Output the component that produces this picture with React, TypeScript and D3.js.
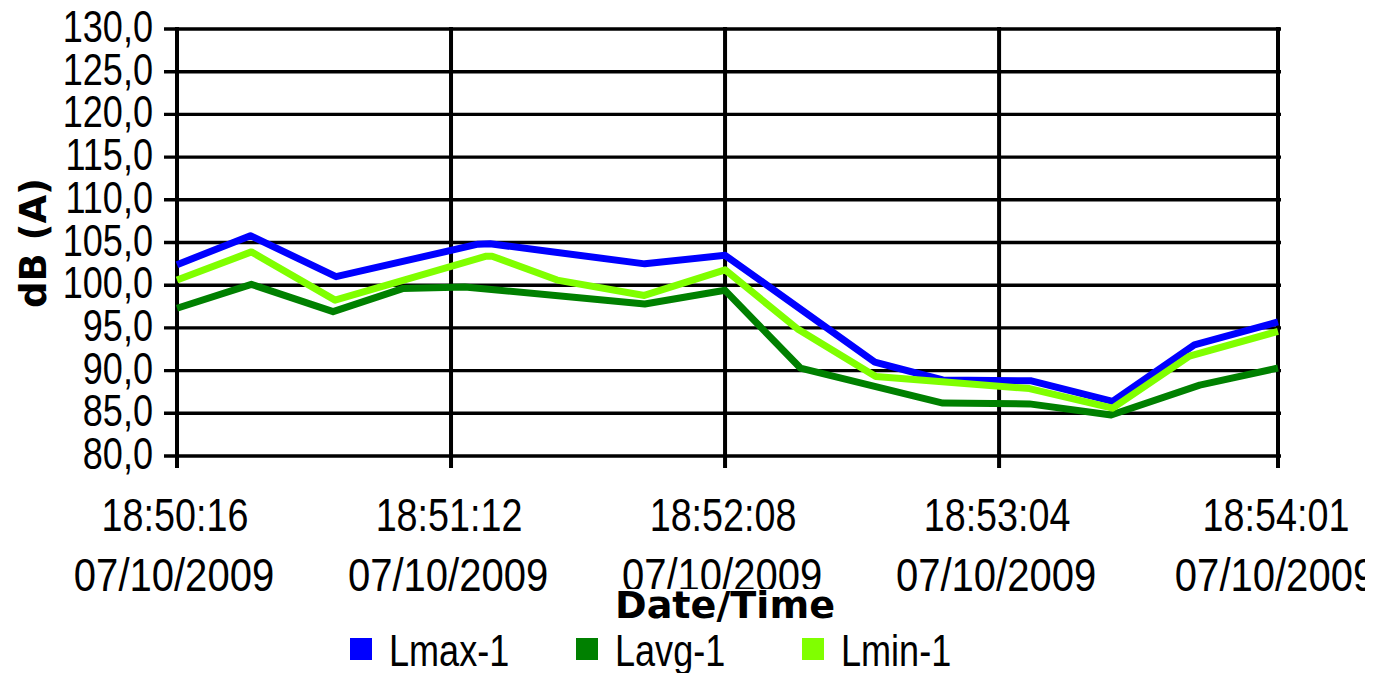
import React from "react";
import * as d3 from "d3";

// ---- data ----
const xTickSeconds = [0, 56, 112, 168, 225];
const xTickTimes = ["18:50:16", "18:51:12", "18:52:08", "18:53:04", "18:54:01"];
const xTickDates = ["07/10/2009", "07/10/2009", "07/10/2009", "07/10/2009", "07/10/2009"];
const yTicks = [80, 85, 90, 95, 100, 105, 110, 115, 120, 125, 130];

const seriesNames = ["Lmax-1", "Lavg-1", "Lmin-1"];
const seriesColors = ["#0000FF", "#008000", "#80FF00"];

// [seconds since 18:50:16, dB(A)]
const lmax: [number, number][] = [
  [0, 102.4], [15, 105.8], [32.5, 101.0], [61.5, 104.8], [64, 104.85],
  [95.6, 102.5], [112, 103.5], [142.6, 91.0], [156.5, 88.9], [174.6, 88.8],
  [191.2, 86.4], [207.9, 93.0], [225, 95.7],
];
const lavg: [number, number][] = [
  [0, 97.3], [15.2, 100.1], [31.9, 96.9], [46.1, 99.6], [58.8, 99.8],
  [95.6, 97.8], [112, 99.4], [127.4, 90.3], [156.5, 86.2], [174.2, 86.1],
  [190.9, 84.8], [209, 88.3], [225, 90.3],
];
const lmin: [number, number][] = [
  [0, 100.6], [15.2, 103.9], [32.3, 98.25], [63.2, 103.4], [64.4, 103.4],
  [77.7, 100.6], [95.5, 98.8], [112, 101.8], [127, 94.8], [142.8, 89.3],
  [174.2, 87.9], [191.2, 85.6], [206.9, 91.7], [225, 94.6],
];
const seriesData = [lmax, lavg, lmin];

const SANS = "'Liberation Sans', Arial, sans-serif";
const BOLD = "'DejaVu Sans', 'Liberation Sans', sans-serif";

function NarrowText(props: {
  x: number;
  y: number;
  sx: number;
  anchor?: "start" | "middle" | "end";
  size: number;
  children: React.ReactNode;
}) {
  const { x, y, sx, anchor = "start", size, children } = props;
  return (
    <text
      transform={`translate(${x},${y}) scale(${sx},1)`}
      textAnchor={anchor}
      fontFamily={SANS}
      fontSize={size}
      fill="#000"
    >
      {children}
    </text>
  );
}

export default function App() {
  const W = 1382;
  const H = 673;
  const left = 177, right = 1278, top = 29, bottom = 456;

  const x = d3
    .scaleLinear()
    .domain([xTickSeconds[0], xTickSeconds[xTickSeconds.length - 1]])
    .range([left, right]);
  const y = d3.scaleLinear().domain([80, 130]).range([bottom, top]);
  const fmt = (v: number) => d3.format(".1f")(v).replace(".", ",");

  const line = d3
    .line<[number, number]>()
    .x((d) => x(d[0]))
    .y((d) => y(d[1]));

  return (
    <svg
      width={W}
      height={H}
      style={{ position: "absolute", left: 0, top: 0, background: "#fff" }}
    >
      <defs>
        <clipPath id="chartClip">
          <rect x={0} y={0} width={1365} height={H} />
        </clipPath>
      </defs>
      <rect x={0} y={0} width={W} height={H} fill="#fff" />

      {/* horizontal gridlines + tick marks */}
      {yTicks.map((t) => (
        <line
          key={"h" + t}
          x1={left - 13}
          x2={right + 3}
          y1={y(t)}
          y2={y(t)}
          stroke="#000"
          strokeWidth={3.4}
        />
      ))}
      {/* vertical gridlines + tick marks */}
      {xTickSeconds.map((s) => (
        <line
          key={"v" + s}
          x1={x(s)}
          x2={x(s)}
          y1={top - 2}
          y2={bottom + 12}
          stroke="#000"
          strokeWidth={4}
        />
      ))}

      {/* y tick labels */}
      {yTicks.map((t) => (
        <NarrowText key={"yl" + t} x={153} y={y(t) + 13} sx={0.82} anchor="end" size={44}>
          {fmt(t)}
        </NarrowText>
      ))}

      {/* series */}
      {seriesData.map((d, i) => (
        <path
          key={"s" + i}
          d={line(d) || ""}
          fill="none"
          stroke={seriesColors[i]}
          strokeWidth={7}
          strokeLinejoin="round"
        />
      ))}

      {/* x tick labels */}
      <g clipPath="url(#chartClip)">
        {xTickSeconds.map((s, i) => (
          <g key={"xl" + s}>
            <NarrowText x={x(s) - 2} y={531} sx={0.82} anchor="middle" size={46}>
              {xTickTimes[i]}
            </NarrowText>
            <NarrowText x={x(s) - 3} y={591} sx={0.87} anchor="middle" size={46}>
              {xTickDates[i]}
            </NarrowText>
          </g>
        ))}
      </g>

      {/* x axis title */}
      <rect x={612} y={589} width={226} height={33} fill="#fff" />
      <text
        x={725}
        y={618}
        textAnchor="middle"
        fontFamily={BOLD}
        fontWeight="bold"
        fontSize={38}
        textLength={220}
        lengthAdjust="spacingAndGlyphs"
        fill="#000"
      >
        Date/Time
      </text>

      {/* y axis title */}
      <text
        transform={`translate(46, ${243}) rotate(-90)`}
        textAnchor="middle"
        fontFamily={BOLD}
        fontWeight="bold"
        fontSize={38}
        textLength={130}
        lengthAdjust="spacingAndGlyphs"
        fill="#000"
      >
        dB (A)
      </text>

      {/* legend */}
      {seriesNames.map((n, i) => (
        <g key={"lg" + n}>
          <rect x={350 + i * 226} y={638} width={22} height={22} fill={seriesColors[i]} />
          <NarrowText x={389 + i * 226} y={666} sx={0.82} size={44}>
            {n}
          </NarrowText>
        </g>
      ))}
    </svg>
  );
}
